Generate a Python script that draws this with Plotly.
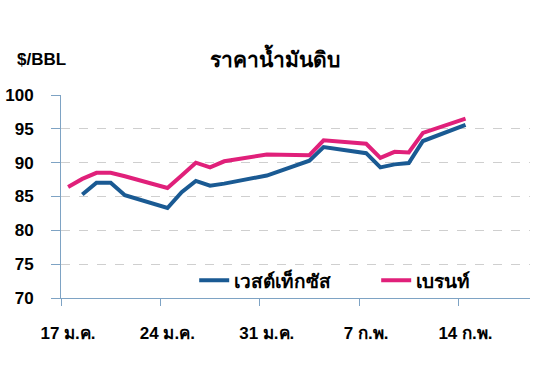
import plotly.graph_objects as go

dates = ["2008-01-17", "2008-01-18", "2008-01-19", "2008-01-20", "2008-01-21",
         "2008-01-24", "2008-01-25", "2008-01-26", "2008-01-27", "2008-01-28",
         "2008-01-31", "2008-02-03", "2008-02-04", "2008-02-07", "2008-02-08",
         "2008-02-09", "2008-02-10", "2008-02-11", "2008-02-14"]
wti = [None, 85.3, 87.05, 87.05, 85.2,
       83.3, 85.65, 87.3, 86.6, 86.9,
       88.1, 90.3, 92.3, 91.4, 89.3,
       89.75, 89.95, 93.2, 95.6]
brent = [86.4, 87.6, 88.5, 88.5, 88.0,
         86.25, 88.1, 90.0, 89.3, 90.2,
         91.2, 91.1, 93.3, 92.8, 90.7,
         91.6, 91.5, 94.4, 96.5]
tick_dates = ["2008-01-17", "2008-01-24", "2008-01-31", "2008-02-07", "2008-02-14"]
tick_text = ["17 ม.ค.", "24 ม.ค.", "31 ม.ค.", "7 ก.พ.", "14 ก.พ."]
names = ["เวสต์เท็กซัส", "เบรนท์"]
title = "ราคาน้ำมันดิบ"
unit = "$/BBL"

FONT = "Liberation Sans, Arial, Noto Sans, sans-serif"
AXIS_COLOR = "#7ea3c4"

fig = go.Figure()
fig.add_trace(go.Scatter(x=dates, y=wti, name=names[0], mode="lines",
                         line=dict(color="#1a5a93", width=4),
                         xperiod=86400000, xperiodalignment="middle",
                         connectgaps=True))
fig.add_trace(go.Scatter(x=dates, y=brent, name=names[1], mode="lines",
                         line=dict(color="#e0207a", width=4),
                         xperiod=86400000, xperiodalignment="middle"))

fig.update_layout(
    width=550, height=368,
    margin=dict(l=61, r=20, t=95, b=70, autoexpand=False),
    paper_bgcolor="white", plot_bgcolor="white",
    font=dict(family=FONT, color="black", size=17, weight="bold"),
    showlegend=True,
    legend=dict(orientation="h", x=0.284, y=0.087, xanchor="left", yanchor="middle",
                bgcolor="rgba(0,0,0,0)", font=dict(size=19, weight="bold"),
                entrywidth=137, entrywidthmode="pixels", traceorder="normal"),
    title=dict(text=title, x=0.5, xanchor="center", y=1 - 60 / 368, yanchor="middle",
               font=dict(size=21, weight="bold")),
    annotations=[dict(text=unit, xref="paper", yref="paper",
                      x=-46 / 469.3, y=1 + 35 / 202.7, xanchor="left", yanchor="middle",
                      showarrow=False, font=dict(size=17, weight="bold"))],
)

fig.update_xaxes(
    type="date", automargin=False,
    range=["2008-01-17", "2008-02-19 01:00"],
    tickvals=tick_dates, ticktext=tick_text,
    ticks="outside", ticklen=7, tickcolor=AXIS_COLOR, tickwidth=1,
    showline=True, linecolor=AXIS_COLOR, linewidth=1,
    showgrid=False, zeroline=False,
    ticklabelshift=7, ticklabelstandoff=13,
    tickfont=dict(size=17, weight="bold"),
)
fig.update_yaxes(
    range=[70, 100], tickvals=[70, 75, 80, 85, 90, 95, 100], automargin=False,
    ticks="outside", ticklen=9, tickcolor=AXIS_COLOR, tickwidth=1,
    showline=True, linecolor=AXIS_COLOR, linewidth=1,
    showgrid=True, gridcolor="#cfcfcf", griddash="dash", gridwidth=1,
    zeroline=False, ticklabelstandoff=14,
    tickfont=dict(size=17, weight="bold"),
)

fig.write_html("out.html")
